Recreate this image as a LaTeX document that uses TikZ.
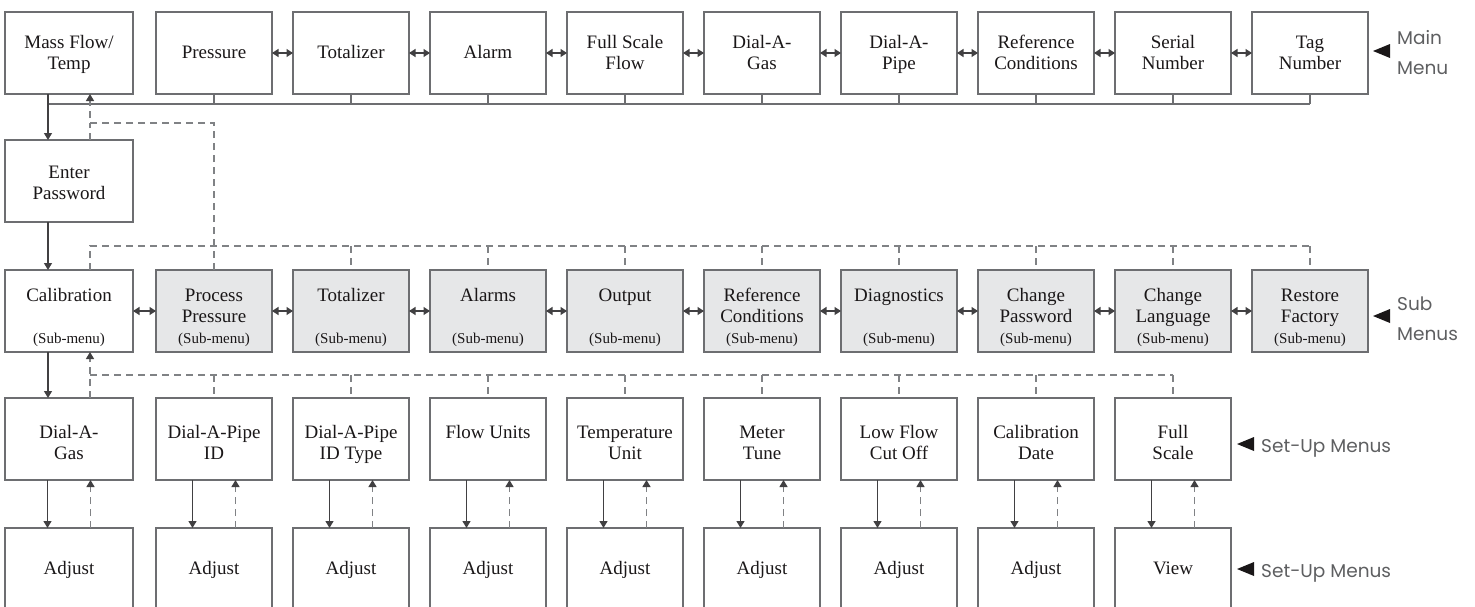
\documentclass[tikz,border=0pt]{standalone}
\usepackage{fontspec}
\setmainfont{Liberation Serif}
\newfontfamily\labfont{Poppins}
\usetikzlibrary{arrows.meta}
\definecolor{txtc}{HTML}{1A1718}
\definecolor{boxc}{HTML}{6D6E71}
\definecolor{arrc}{HTML}{414042}
\definecolor{dshc}{HTML}{808285}
\definecolor{fillc}{HTML}{E6E7E8}
\definecolor{labc}{HTML}{5E5F61}
\newcommand\mainsz{\fontsize{19}{21}\selectfont}
\newcommand\subsz{\fontsize{15}{18}\selectfont}
\newcommand\bt[3]{\parbox[c][82pt][t]{#1}{\centering\vspace*{#2}#3\par}}
\newcommand\sbt[2]{\parbox[c][82pt][t]{#1}{\centering\vspace*{16.3pt}#2\par\vfill{\subsz\strut(Sub-menu)\par}\vspace*{3.6pt}}}
\begin{document}
\begin{tikzpicture}[x=1pt,y=-1pt,
  bx/.style={draw=boxc, line width=1.2pt, inner sep=0pt, outer sep=0pt, anchor=north west, font=\mainsz, text=txtc},
  gbx/.style={bx, fill=fillc},
  arr/.style={draw=arrc, line width=1.3pt, -{Triangle[length=7pt,width=8pt]}},
  dsh/.style={draw=dshc, line width=1.2pt, dash pattern=on 7pt off 5pt},
  dsharr/.style={dsh, -{Triangle[length=7pt,width=8pt,color=arrc]}},
  darr/.style={draw=arrc, line width=1.3pt, {Triangle[length=6.5pt,width=8pt]}-{Triangle[length=6.5pt,width=8pt]}},
  bus/.style={draw=boxc, line width=1.5pt},
  lab/.style={font=\labfont\fontsize{18.5}{20}\selectfont, text=labc, anchor=base west, inner sep=0pt},
  tri/.style={fill=txtc}
]
\useasboundingbox (0,0) rectangle (1475,606);
\clip (0,0) rectangle (1475,606);

% ---------- main menu row ----------
\node[bx] (m0) at (5,12) {\bt{128pt}{21.8pt}{\strut Mass Flow/\\\strut Temp}};
\node[bx] (m1) at (156,12) {\bt{116pt}{31.3pt}{\strut Pressure}};
\node[bx] (m2) at (293,12) {\bt{116pt}{31.3pt}{\strut Totalizer}};
\node[bx] (m3) at (430,12) {\bt{116pt}{31.3pt}{\strut Alarm}};
\node[bx] (m4) at (567,12) {\bt{116pt}{21.8pt}{\strut Full Scale\\\strut Flow}};
\node[bx] (m5) at (704,12) {\bt{116pt}{21.8pt}{\strut Dial-A-\\\strut Gas}};
\node[bx] (m6) at (841,12) {\bt{116pt}{21.8pt}{\strut Dial-A-\\\strut Pipe}};
\node[bx] (m7) at (978,12) {\bt{116pt}{21.8pt}{\strut Reference\\\strut Conditions}};
\node[bx] (m8) at (1115,12) {\bt{116pt}{21.8pt}{\strut Serial\\\strut Number}};
\node[bx] (m9) at (1252,12) {\bt{116pt}{21.8pt}{\strut Tag\\\strut Number}};

% ---------- enter password ----------
\node[bx] (ep) at (5,140) {\bt{128pt}{23.6pt}{\strut Enter\\\strut Password}};

% ---------- sub menus ----------
\node[bx] (s0) at (5,270) {\sbt{128pt}{\strut Calibration}};
\node[gbx] (s1) at (156,270) {\sbt{116pt}{\strut Process\\\strut Pressure}};
\node[gbx] (s2) at (293,270) {\sbt{116pt}{\strut Totalizer}};
\node[gbx] (s3) at (430,270) {\sbt{116pt}{\strut Alarms}};
\node[gbx] (s4) at (567,270) {\sbt{116pt}{\strut Output}};
\node[gbx] (s5) at (704,270) {\sbt{116pt}{\strut Reference\\\strut Conditions}};
\node[gbx] (s6) at (841,270) {\sbt{116pt}{\strut Diagnostics}};
\node[gbx] (s7) at (978,270) {\sbt{116pt}{\strut Change\\\strut Password}};
\node[gbx] (s8) at (1115,270) {\sbt{116pt}{\strut Change\\\strut Language}};
\node[gbx] (s9) at (1252,270) {\sbt{116pt}{\strut Restore\\\strut Factory}};

% ---------- set-up menus ----------
\node[bx] (u0) at (5,398) {\bt{128pt}{25.3pt}{\strut Dial-A-\\\strut Gas}};
\node[bx] (u1) at (156,398) {\bt{116pt}{25.3pt}{\strut Dial-A-Pipe\\\strut ID}};
\node[bx] (u2) at (293,398) {\bt{116pt}{25.3pt}{\strut Dial-A-Pipe\\\strut ID Type}};
\node[bx] (u3) at (430,398) {\bt{116pt}{25.3pt}{\strut Flow Units}};
\node[bx] (u4) at (567,398) {\bt{116pt}{25.3pt}{\strut Temperature\\\strut Unit}};
\node[bx] (u5) at (704,398) {\bt{116pt}{25.3pt}{\strut Meter\\\strut Tune}};
\node[bx] (u6) at (841,398) {\bt{116pt}{25.3pt}{\strut Low Flow\\\strut Cut Off}};
\node[bx] (u7) at (978,398) {\bt{116pt}{25.3pt}{\strut Calibration\\\strut Date}};
\node[bx] (u8) at (1115,398) {\bt{116pt}{25.3pt}{\strut Full\\\strut Scale}};

\node[bx] (v0) at (5,528) {\bt{128pt}{31.3pt}{\strut Adjust}};
\node[bx] (v1) at (156,528) {\bt{116pt}{31.3pt}{\strut Adjust}};
\node[bx] (v2) at (293,528) {\bt{116pt}{31.3pt}{\strut Adjust}};
\node[bx] (v3) at (430,528) {\bt{116pt}{31.3pt}{\strut Adjust}};
\node[bx] (v4) at (567,528) {\bt{116pt}{31.3pt}{\strut Adjust}};
\node[bx] (v5) at (704,528) {\bt{116pt}{31.3pt}{\strut Adjust}};
\node[bx] (v6) at (841,528) {\bt{116pt}{31.3pt}{\strut Adjust}};
\node[bx] (v7) at (978,528) {\bt{116pt}{31.3pt}{\strut Adjust}};
\node[bx] (v8) at (1115,528) {\bt{116pt}{31.3pt}{\strut View}};

% ---------- helper coordinates ----------
\coordinate (xl) at (48,0);
\coordinate (busL) at (48,104);
\coordinate (dU) at (90,123);
\coordinate (dS) at (90,246);
\coordinate (dB) at (90,375);

% ---------- main menu bus ----------
\draw[bus] (busL) -- (m9.south |- busL);
\foreach \i in {1,...,9} \draw[bus] (m\i.south) -- (m\i.south |- busL);

% ---------- horizontal double arrows ----------
\foreach \i [evaluate=\i as \j using int(\i+1)] in {1,...,8}
  \draw[darr] (m\i.east) -- (m\j.west);
\foreach \i [evaluate=\i as \j using int(\i+1)] in {0,...,8}
  \draw[darr] (s\i.east) -- (s\j.west);

% ---------- left column flow ----------
\draw[arr] (m0.south -| xl) -- (ep.north -| xl);
\draw[arr] (ep.south -| xl) -- (s0.north -| xl);
\draw[arr] (s0.south -| xl) -- (u0.north -| xl);

% ---------- dashed return paths ----------
\draw[dsharr] (s1.north) |- (dU) -- (m0.south -| dU);
\draw[dsh] (ep.north -| dU) -- (dU);

\draw[dsh] (s0.north -| dS) -- (dS) -- (s9.north |- dS);
\foreach \i in {2,...,9} \draw[dsh] (s\i.north |- dS) -- (s\i.north);

\draw[dsharr] (u0.north -| dB) -- (s0.south -| dB);
\draw[dsh] (dB) -- (u8.north |- dB);
\foreach \i in {1,...,8} \draw[dsh] (u\i.north |- dB) -- (u\i.north);

% ---------- set-up vertical arrows ----------
\foreach \i in {0,...,8} {
  \draw[arr] ([xshift=-21.5pt]u\i.south) -- ([xshift=-21.5pt]v\i.north);
  \draw[dsharr] ([xshift=21.5pt]v\i.north) -- ([xshift=21.5pt]u\i.south);
}

% ---------- right side labels ----------
\fill[tri] (1373,51) -- (1390,44) -- (1390,58) -- cycle;
\node[lab] (lmain) at (1397,44) {Main};
\node[lab] (lmenu) at (1397,74) {Menu};

\fill[tri] (1373,316) -- (1390,309) -- (1390,323) -- cycle;
\node[lab] (lsub) at (1397,310) {Sub};
\node[lab] (lsubm) at (1397,340) {Menus};

\fill[tri] (1237,444) -- (1254,437) -- (1254,451) -- cycle;
\node[lab] (lset1) at (1261,452) {Set-Up Menus};

\fill[tri] (1237,569) -- (1254,562) -- (1254,576) -- cycle;
\node[lab] (lset2) at (1261,577) {Set-Up Menus};
\end{tikzpicture}
\end{document}
